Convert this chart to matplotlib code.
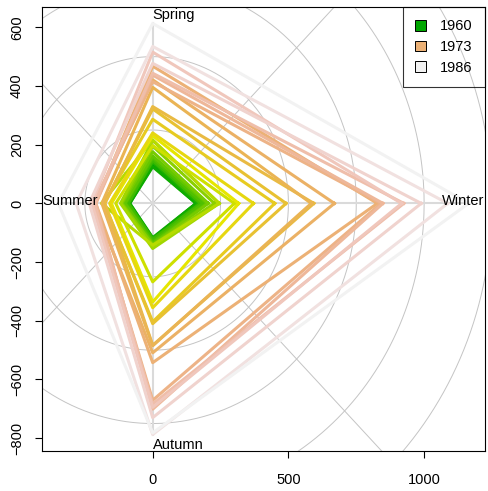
import colorsys
import numpy as np
import matplotlib
matplotlib.use("Agg")
import matplotlib.pyplot as plt
from matplotlib.patches import Patch

plt.rcParams['font.family'] = ['Liberation Sans', 'DejaVu Sans']

years = list(range(1960, 1987))
winter = [160.1, 160.1, 169.7, 187.3, 176.1, 185.7, 200.1, 204.9, 227.3, 244.9,
          244.9, 301.0, 317.0, 371.4, 449.9, 491.5, 593.9, 584.3, 669.4, 827.7,
          840.5, 848.5, 925.3, 917.3, 989.4, 1087.0, 1163.9]
spring = [129.7, 124.9, 140.9, 144.1, 147.3, 155.3, 161.7, 176.1, 195.3, 214.5,
          216.1, 196.9, 230.5, 240.1, 286.6, 321.8, 329.8, 395.4, 421.0, 467.5,
          414.6, 437.1, 443.5, 515.5, 477.1, 534.7, 613.1]
summer = [84.8, 84.8, 89.7, 92.9, 89.7, 99.3, 102.5, 112.1, 115.3, 118.5,
          188.9, 136.1, 152.1, 158.5, 179.3, 177.7, 176.1, 187.3, 216.1, 209.7,
          217.7, 209.7, 214.5, 224.1, 233.7, 281.8, 347.4]
autumn = [120.1, 116.9, 123.3, 120.1, 123.3, 131.3, 136.1, 140.9, 142.5, 153.7,
          142.5, 267.3, 336.2, 355.4, 403.4, 409.8, 483.5, 485.1, 509.1, 542.7,
          670.8, 701.2, 683.6, 694.8, 730.0, 787.6, 782.0]
season_names = ["Winter", "Spring", "Summer", "Autumn"]
legend_years = ["1960", "1973", "1986"]
grid_radii = [250, 500, 750, 1000, 1250, 1500]
x_ticks = [0, 500, 1000]
y_ticks = [-800, -600, -400, -200, 0, 200, 400, 600]


def terrain_colors(n):
    k = n // 2
    cols = []
    hs = np.linspace(4 / 12, 2 / 12, k)
    ss = np.linspace(1, 1, k)
    vs = np.linspace(0.65, 0.9, k)
    for h, s, v in zip(hs, ss, vs):
        cols.append(colorsys.hsv_to_rgb(h, s, v))
    m = n - k + 1
    hs = np.linspace(2 / 12, 0, m)[1:]
    ss = np.linspace(1, 0, m)[1:]
    vs = np.linspace(0.9, 0.95, m)[1:]
    for h, s, v in zip(hs, ss, vs):
        cols.append(colorsys.hsv_to_rgb(h, s, v))
    return cols


W, H = 488, 491
fig = plt.figure(figsize=(W / 100, H / 100), dpi=100)
ax = fig.add_axes([42 / W, (H - 451) / H, (485 - 42) / W, (451 - 7) / H])

# quarter directions: Winter +x, Spring +y, Summer -x, Autumn -y
W_ = np.array(winter); S_ = np.array(spring); Su_ = np.array(summer); A_ = np.array(autumn)
xs_all = np.concatenate([W_, -Su_, np.zeros(len(S_))])
ys_all = np.concatenate([S_, -A_, np.zeros(len(W_))])
xr = xs_all.max() - xs_all.min()
yr = ys_all.max() - ys_all.min()
ax.set_xlim(xs_all.min() - 0.04 * xr, xs_all.max() + 0.04 * xr)
ax.set_ylim(ys_all.min() - 0.04 * yr, ys_all.max() + 0.04 * yr)

# grid circles
th = np.linspace(0, 2 * np.pi, 721)
for r in grid_radii:
    ax.plot(r * np.cos(th), r * np.sin(th), color="#C4C4C4", lw=0.7, zorder=1)
ax.axline((0, 0), (1, 1), color="#C4C4C4", lw=0.7, zorder=1)
ax.axline((0, 0), (1, -1), color="#C4C4C4", lw=0.7, zorder=1)

# spokes
ax.plot([0, W_.max()], [0, 0], color="#DADADA", lw=1.5, zorder=1.5)
ax.plot([0, -Su_.max()], [0, 0], color="#DADADA", lw=1.5, zorder=1.5)
ax.plot([0, 0], [0, S_.max()], color="#DADADA", lw=1.5, zorder=1.5)
ax.plot([0, 0], [0, -A_.max()], color="#DADADA", lw=1.5, zorder=1.5)

cols = terrain_colors(len(years))
for i in range(len(years)):
    px = [W_[i], 0, -Su_[i], 0, W_[i]]
    py = [0, S_[i], 0, -A_[i], 0]
    ax.plot(px, py, color=cols[i], lw=2.2, solid_joinstyle="round", zorder=2)

fs = 10.5
ax.text(0, 643, season_names[1], ha="left", va="center", fontsize=fs, zorder=3)
ax.text(0, -824, season_names[3], ha="left", va="center", fontsize=fs, zorder=3)
ax.text(1066, 8, season_names[0], ha="left", va="center", fontsize=fs, zorder=3, clip_on=True)
ax.text(-408, 8, season_names[2], ha="left", va="center", fontsize=fs, zorder=3)

ax.set_xticks(x_ticks)
ax.set_yticks(y_ticks)
ax.tick_params(direction="out", length=5, width=0.8, labelsize=fs, pad=10.5)
ax.tick_params(axis="y", pad=8)
for lab in ax.get_yticklabels():
    lab.set_rotation(90)
    lab.set_va("center")
for sp in ax.spines.values():
    sp.set_linewidth(0.8)

lcols = terrain_colors(3)
handles = [Patch(facecolor=c, edgecolor="black", linewidth=0.7) for c in lcols]
leg = ax.legend(handles, legend_years, loc="upper right", bbox_to_anchor=(1, 1),
                borderaxespad=0, fontsize=fs, frameon=True, fancybox=False,
                handlelength=0.75, handleheight=0.75, handletextpad=0.95,
                labelspacing=0.45, borderpad=0.85)
leg.get_frame().set_edgecolor("black")
leg.get_frame().set_facecolor("none")
leg.get_frame().set_linewidth(0.8)

fig.savefig("out.png", dpi=100)
